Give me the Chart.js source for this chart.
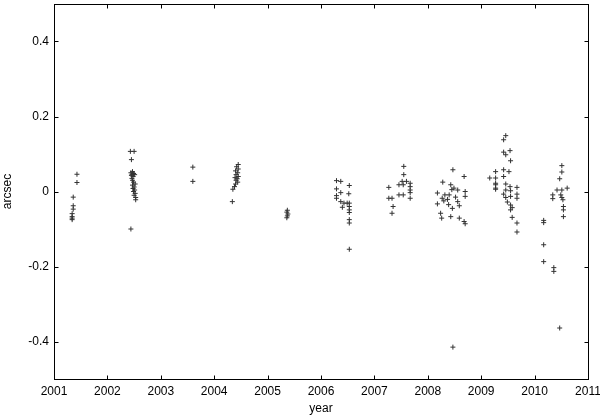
<!DOCTYPE html>
<html>
<head>
<meta charset="utf-8">
<script src="https://cdn.jsdelivr.net/npm/chart.js@4"></script>
<style>
  html, body { margin: 0; padding: 0; background: #fff; }
  #wrap { width: 600px; height: 416px; }
</style>
</head>
<body>
<div id="wrap"><canvas id="c" width="600" height="416"></canvas></div>
<script>
// ---- Data (epoch in decimal years, offset in arcsec) ----
const epochs2001 = [2001.43, 2001.43, 2001.36, 2001.36, 2001.36, 2001.34, 2001.34, 2001.34, 2001.34];
const offsets2001 = [0.046, 0.024, -0.015, -0.038, -0.047, -0.059, -0.067, -0.071, -0.075];

const epochs2002 = [2002.43, 2002.50, 2002.45, 2002.44, 2002.47, 2002.44, 2002.49, 2002.46, 2002.51, 2002.45, 2002.48, 2002.46, 2002.47, 2002.49, 2002.52, 2002.47, 2002.50, 2002.48, 2002.51, 2002.49, 2002.52, 2002.50, 2002.53, 2002.53];
const offsets2002 = [0.107, 0.107, 0.085, -0.100, 0.053, 0.050, 0.048, 0.046, 0.045, 0.043, 0.040, 0.035, 0.030, 0.025, 0.020, 0.017, 0.012, 0.008, 0.004, 0.000, -0.005, -0.010, -0.016, -0.022];

const epochs2003 = [2003.60, 2003.60];
const offsets2003 = [0.065, 0.027];

const epochs2004 = [2004.34, 2004.35, 2004.45, 2004.42, 2004.45, 2004.40, 2004.44, 2004.41, 2004.45, 2004.39, 2004.43, 2004.41, 2004.44, 2004.40, 2004.38];
const offsets2004 = [-0.027, 0.006, 0.072, 0.066, 0.060, 0.055, 0.050, 0.045, 0.040, 0.037, 0.034, 0.030, 0.025, 0.020, 0.013];

const epochs2005 = [2005.37, 2005.36, 2005.38, 2005.37, 2005.36];
const offsets2005 = [-0.050, -0.055, -0.060, -0.065, -0.070];

const epochs2006 = [2006.29, 2006.37, 2006.53, 2006.29, 2006.37, 2006.52, 2006.29, 2006.29, 2006.37, 2006.43, 2006.49, 2006.53, 2006.40, 2006.53, 2006.53, 2006.53, 2006.53, 2006.53, 2006.53];
const offsets2006 = [0.029, 0.027, 0.016, 0.007, -0.003, -0.006, -0.011, -0.018, -0.027, -0.031, -0.031, -0.031, -0.042, -0.040, -0.049, -0.056, -0.075, -0.084, -0.154];

const epochs2007 = [2007.55, 2007.55, 2007.27, 2007.46, 2007.54, 2007.67, 2007.67, 2007.67, 2007.67, 2007.67, 2007.27, 2007.33, 2007.46, 2007.54, 2007.35, 2007.33, 2007.52, 2007.60];
const offsets2007 = [0.067, 0.045, 0.011, 0.018, 0.018, 0.022, 0.013, 0.004, -0.003, -0.018, -0.018, -0.018, -0.009, -0.009, -0.040, -0.058, 0.027, 0.027];

const epochs2008 = [2008.47, 2008.68, 2008.28, 2008.43, 2008.49, 2008.56, 2008.18, 2008.32, 2008.40, 2008.70, 2008.70, 2008.27, 2008.37, 2008.56, 2008.18, 2008.39, 2008.59, 2008.24, 2008.26, 2008.43, 2008.59, 2008.68, 2008.70, 2008.47, 2008.45, 2008.52, 2008.46, 2008.30];
const offsets2008 = [0.058, 0.040, 0.025, 0.018, 0.009, 0.004, -0.004, -0.009, -0.009, 0.000, -0.013, -0.018, -0.021, -0.027, -0.033, -0.035, -0.038, -0.058, -0.071, -0.067, -0.071, -0.080, -0.086, -0.415, 0.005, -0.015, -0.045, -0.025];

const epochs2009 = [2009.16, 2009.27, 2009.27, 2009.27, 2009.27, 2009.46, 2009.42, 2009.42, 2009.54, 2009.46, 2009.55, 2009.42, 2009.52, 2009.42, 2009.27, 2009.27, 2009.46, 2009.54, 2009.67, 2009.46, 2009.55, 2009.67, 2009.42, 2009.46, 2009.55, 2009.67, 2009.49, 2009.55, 2009.58, 2009.55, 2009.58, 2009.67, 2009.67];
const offsets2009 = [0.036, 0.053, 0.036, 0.018, 0.009, 0.149, 0.138, 0.105, 0.109, 0.098, 0.082, 0.058, 0.053, 0.040, 0.022, 0.006, 0.020, 0.013, 0.011, 0.004, 0.002, -0.007, -0.007, -0.016, -0.013, -0.018, -0.028, -0.036, -0.043, -0.049, -0.069, -0.084, -0.108];

const epochs2010 = [2010.51, 2010.51, 2010.47, 2010.61, 2010.42, 2010.51, 2010.34, 2010.49, 2010.51, 2010.34, 2010.53, 2010.54, 2010.54, 2010.54, 2010.17, 2010.17, 2010.17, 2010.17, 2010.36, 2010.36, 2010.47];
const offsets2010 = [0.069, 0.052, 0.034, 0.009, 0.004, 0.004, -0.009, -0.009, -0.016, -0.019, -0.022, -0.040, -0.049, -0.067, -0.077, -0.083, -0.142, -0.187, -0.203, -0.213, -0.364];

const xTicks = [2001, 2002, 2003, 2004, 2005, 2006, 2007, 2008, 2009, 2010, 2011];
const yTicks = [-0.4, -0.2, 0, 0.2, 0.4];
const yTickLabels = ['-0.4', '-0.2', '0', '0.2', '0.4'];
const xTitle = 'year';
const yTitle = 'arcsec';

// ---- Build points ----
const allEpochs = [].concat(epochs2001, epochs2002, epochs2003, epochs2004, epochs2005, epochs2006, epochs2007, epochs2008, epochs2009, epochs2010);
const allOffsets = [].concat(offsets2001, offsets2002, offsets2003, offsets2004, offsets2005, offsets2006, offsets2007, offsets2008, offsets2009, offsets2010);
const points = allEpochs.map((t, i) => ({ x: t, y: allOffsets[i] }));

const FONT = { family: '"Liberation Sans", Arial, Helvetica, sans-serif', size: 12 };

const frame = {
  id: 'frame',
  afterDraw(chart) {
    const { ctx, chartArea: a, scales } = chart;
    const L = Math.round(a.left) + 0.5, R = Math.round(a.right) + 0.5;
    const T = Math.round(a.top) + 0.5, B = Math.round(a.bottom) + 0.5;
    ctx.save();
    ctx.strokeStyle = '#000';
    ctx.lineWidth = 1;
    ctx.strokeRect(L, T, R - L, B - T);
    const len = 4;
    ctx.beginPath();
    xTicks.forEach(v => {
      const px = Math.round(scales.x.getPixelForValue(v)) + 0.5;
      ctx.moveTo(px, B); ctx.lineTo(px, B - len);
      ctx.moveTo(px, T); ctx.lineTo(px, T + len);
    });
    yTicks.forEach(v => {
      const py = Math.round(scales.y.getPixelForValue(v)) + 0.5;
      ctx.moveTo(L, py); ctx.lineTo(L + len, py);
      ctx.moveTo(R, py); ctx.lineTo(R - len, py);
    });
    ctx.stroke();
    ctx.restore();
  }
};

new Chart(document.getElementById('c'), {
  type: 'scatter',
  data: {
    datasets: [{
      data: points,
      pointStyle: 'cross',
      pointRadius: 2.5,
      pointBorderWidth: 1,
      borderColor: '#333',
      backgroundColor: '#333',
      pointHoverRadius: 2.5
    }]
  },
  options: {
    responsive: false,
    animation: false,
    devicePixelRatio: 1,
    layout: { padding: { top: 4, right: 12, left: 0, bottom: 0 } },
    plugins: { legend: { display: false }, tooltip: { enabled: false } },
    scales: {
      x: {
        type: 'linear',
        min: 2001, max: 2011,
        afterBuildTicks: s => { s.ticks = xTicks.map(v => ({ value: v })); },
        afterFit: s => { s.height = 37; s.paddingLeft = 0; s.paddingRight = 0; },
        grid: { display: false, drawTicks: false },
        border: { display: false },
        ticks: { color: '#000', font: FONT, padding: 5, maxRotation: 0, autoSkip: false,
                 callback: v => String(v) },
        title: { display: true, text: xTitle, color: '#000', font: FONT, padding: 0 }
      },
      y: {
        type: 'linear',
        min: -0.5, max: 0.5,
        afterBuildTicks: s => { s.ticks = yTicks.map(v => ({ value: v })); },
        afterFit: s => { s.width = 54; s.paddingTop = 0; s.paddingBottom = 0; },
        grid: { display: false, drawTicks: false },
        border: { display: false },
        ticks: { color: '#000', font: FONT, padding: 5, autoSkip: false,
                 callback: v => { const i = yTicks.findIndex(t => Math.abs(t - v) < 1e-9); return i >= 0 ? yTickLabels[i] : ''; } },
        title: { display: true, text: yTitle, color: '#000', font: FONT, padding: 0 }
      }
    }
  },
  plugins: [frame]
});
</script>
</body>
</html>
